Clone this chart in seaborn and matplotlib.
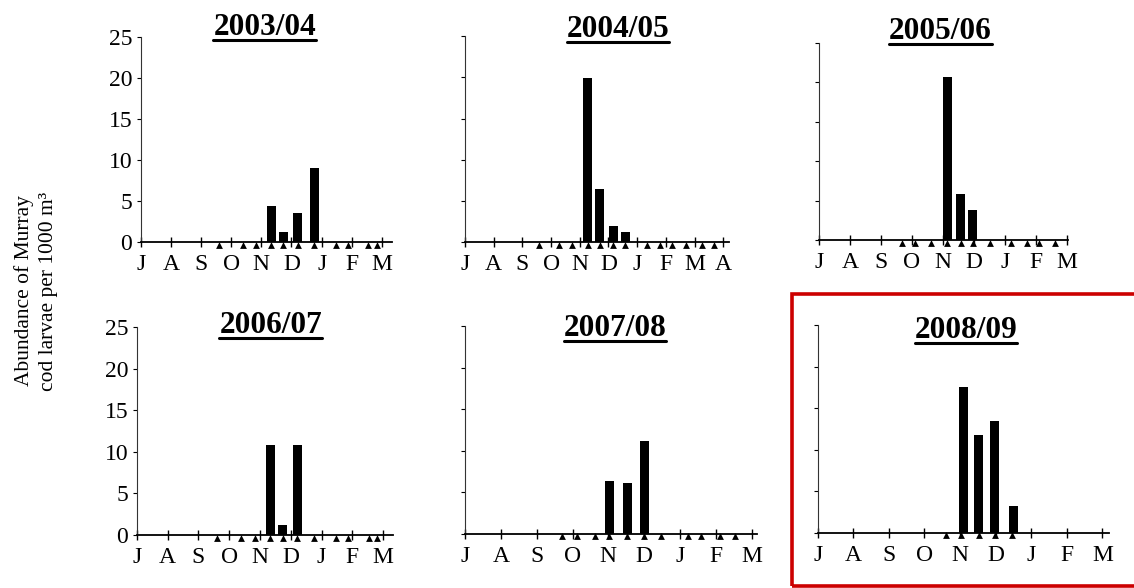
import matplotlib
matplotlib.use('Agg')
import matplotlib.pyplot as plt
from matplotlib.lines import Line2D
from matplotlib.patches import Rectangle
import seaborn as sns
import pandas as pd
import numpy as np

# ---- data (x = months after 1 July) ----
seasons = ['2003/04', '2004/05', '2005/06', '2006/07', '2007/08', '2008/09']

months_short = ['J', 'A', 'S', 'O', 'N', 'D', 'J', 'F', 'M']
months_long = ['J', 'A', 'S', 'O', 'N', 'D', 'J', 'F', 'M', 'A']

bar_x_0304 = [4.34, 4.72, 5.19, 5.75]
bar_y_0304 = [4.4, 1.2, 3.6, 9.0]
samples_0304 = [2.59, 3.40, 3.82, 4.31, 4.73, 5.20, 5.75, 6.46, 6.87, 7.53, 7.82]

bar_x_0405 = [4.27, 4.70, 5.17, 5.60]
bar_y_0405 = [19.9, 6.4, 2.0, 1.2]
samples_0405 = [2.57, 3.27, 3.74, 4.27, 4.70, 5.17, 5.58, 6.34, 6.81, 7.22, 7.69, 8.25, 8.66]

bar_x_0506 = [4.14, 4.58, 4.96]
bar_y_0506 = [20.6, 5.8, 3.8]
samples_0506 = [2.69, 3.10, 3.62, 4.14, 4.58, 4.96, 5.51, 6.19, 6.73, 7.11, 7.62]

bar_x_0607 = [4.35, 4.74, 5.21]
bar_y_0607 = [10.8, 1.2, 10.8]
samples_0607 = [2.60, 3.40, 3.83, 4.34, 4.74, 5.21, 5.75, 6.47, 6.87, 7.55, 7.81]

bar_x_0708 = [4.03, 4.53, 5.00]
bar_y_0708 = [6.3, 6.1, 11.2]
samples_0708 = [2.70, 3.12, 3.63, 4.03, 4.53, 5.00, 5.47, 6.22, 6.58, 7.12, 7.54]

bar_x_0809 = [4.09, 4.51, 4.98, 5.49]
bar_y_0809 = [17.5, 11.7, 13.5, 3.2]
samples_0809 = [3.60, 4.02, 4.53, 4.99, 5.45]

bar_x = [bar_x_0304, bar_x_0405, bar_x_0506, bar_x_0607, bar_x_0708, bar_x_0809]
bar_y = [bar_y_0304, bar_y_0405, bar_y_0506, bar_y_0607, bar_y_0708, bar_y_0809]
samples = [samples_0304, samples_0405, samples_0506, samples_0607, samples_0708, samples_0809]
month_labels = [months_short, months_long, months_short, months_short, months_short, months_short]

# ---- layout (pixels in a 1134x588 canvas) ----
W, H = 1134, 588
# left, right, top(y=25), bottom(y=0), xmax, title centre x, title baseline y
panels = [
    (140.7, 391.6, 36.7, 242.3, 8.32, 264.7, 35.0),
    (465.0, 729.0, 36.0, 242.3, 9.20, 618.0, 36.7),
    (819.0, 1068.2, 42.7, 240.0, 8.05, 940.5, 39.3),
    (136.7, 393.0, 327.3, 535.0, 8.32, 270.8, 333.0),
    (465.0, 756.7, 326.0, 533.7, 8.14, 615.0, 335.5),
    (817.7, 1108.9, 325.0, 532.7, 8.18, 966.0, 337.5),
]
bar_px = 9.0

sns.set_theme(style='white', rc={'text.color': 'black', 'axes.labelcolor': 'black',
                                 'xtick.color': 'black', 'ytick.color': 'black'})
plt.rcParams['font.family'] = ['Liberation Serif', 'DejaVu Serif']

fig = plt.figure(figsize=(W / 100, H / 100), dpi=100)

titles = []
for i, (l, r, t, b, xmax, tx, ty) in enumerate(panels):
    ax = fig.add_axes([l / W, 1 - b / H, (r - l) / W, (b - t) / H])
    ppm = (r - l) / xmax
    df = pd.DataFrame({'x': bar_x[i], 'y': bar_y[i]})
    min_gap = np.min(np.diff(sorted(bar_x[i])))
    sns.barplot(data=df, x='x', y='y', native_scale=True, color='black',
                width=(bar_px / ppm) / min_gap, errorbar=None, ax=ax,
                edgecolor='black', linewidth=0, saturation=1)

    px_unit = (b - t) / 25
    sdf = pd.DataFrame({'x': samples[i], 'y': -2.7 / px_unit})
    sns.scatterplot(data=sdf, x='x', y='y', marker='^', color='black', s=24,
                    linewidth=0, clip_on=False, ax=ax, zorder=5)

    ax.set_xlim(0, xmax)
    ax.set_ylim(0, 25)
    ax.set_xlabel('')
    ax.set_ylabel('')
    labs = month_labels[i]
    ax.set_xticks(range(len(labs)))
    ax.set_xticklabels(labs, fontsize=17)
    ax.set_yticks([0, 5, 10, 15, 20, 25])
    if i in (0, 3):
        ax.set_yticklabels(['0', '5', '10', '15', '20', '25'], fontsize=17)
    else:
        ax.set_yticklabels([])
    ax.tick_params(axis='x', bottom=True, direction='inout', length=7, width=1.0,
                   pad=5, colors='black')
    ax.tick_params(axis='y', left=True, direction='out', length=3, width=0.8,
                   pad=3, colors='black')
    for s in ('top', 'right'):
        ax.spines[s].set_visible(False)
    ax.spines['bottom'].set_linewidth(1.3)
    ax.spines['bottom'].set_color('black')
    ax.spines['left'].set_linewidth(0.8)
    ax.spines['left'].set_color('#333333')
    ax.patch.set_alpha(0)

    tt = fig.text(tx / W, 1 - ty / H, seasons[i], ha='center', va='baseline',
                  fontsize=22.5, fontweight='bold', color='black')
    titles.append((tt, ty))

fig.text(36 / W, 1 - 291 / H, 'Abundance of Murray\ncod larvae per 1000 m³',
         rotation=90, ha='center', va='center', fontsize=15.5, linespacing=1.3,
         color='black')

# underline the titles
fig.canvas.draw()
rend = fig.canvas.get_renderer()
for tt, ty in titles:
    bb = tt.get_window_extent(rend)
    yy = 1 - (ty + 5) / H
    fig.add_artist(Line2D([bb.x0 / W, bb.x1 / W], [yy, yy], transform=fig.transFigure,
                          color='black', linewidth=2.2))

# red box around the last season
fig.add_artist(Rectangle((792 / W, 1 - 586 / H), 400 / W, (586 - 293.5) / H,
                         transform=fig.transFigure, fill=False,
                         edgecolor='#cc0000', linewidth=2.6))

fig.savefig('out.png', dpi=100)
